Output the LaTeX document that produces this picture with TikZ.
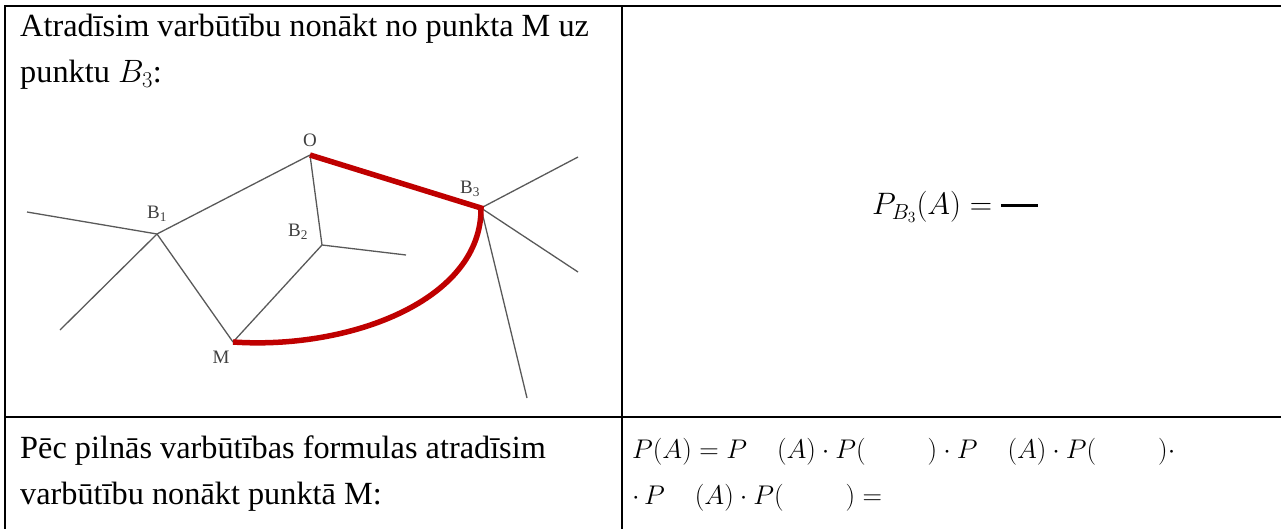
\RequirePackage{fix-cm}
\documentclass[tikz,border=0pt]{standalone}
\usepackage{fontspec}
\setmainfont{Liberation Serif}
\begin{document}
\begin{tikzpicture}[x=1pt,y=-1pt,
  cellline/.style={line width=2.2pt,black},
  edge/.style={line width=1.3pt,draw=black!65},
  path/.style={line width=5.5pt,draw=red!75!black,line cap=butt,line join=miter},
  txt/.style={anchor=base west,inner sep=0pt,font=\fontsize{32.3}{38}\selectfont},
  mtxt/.style={anchor=base west,inner sep=0pt,font=\fontsize{27}{32}\selectfont},
  lbl/.style={inner sep=0pt,font=\fontsize{19}{22}\selectfont,text=black!75}]
\useasboundingbox (0,0) rectangle (1281,529);
% table grid
\coordinate (tl) at (5,6);
\coordinate (tr) at (1285,6);
\coordinate (bl) at (5,535);
\coordinate (ml) at (5,417);
\coordinate (mr) at (1285,417);
\coordinate (ct) at (622,6);
\coordinate (cb) at (622,535);
\draw[cellline] (tr) -- (tl) -- (bl);
\draw[cellline] (ml) -- (mr);
\draw[cellline] (ct) -- (cb);
% texts
\node[txt] (t1) at (20,37) {Atradīsim varbūtību nonākt no punkta M uz};
\node[txt] (t2) at (20,83) {punktu $B_3$:};
\node[txt] (t3) at (20,458) {Pēc pilnās varbūtības formulas atradīsim};
\node[txt] (t4) at (20,504) {varbūtību nonākt punktā M:};
\node[mtxt,font=\fontsize{31}{36}\selectfont] (f1) at (872,215) {$P_{B_3}(A)=\rule[0.25em]{1.2em}{0.1em}$};
\node[mtxt] (f2) at (632,458) {$P(A)=P\hspace{30pt}(A)\cdot P(\hspace{62pt})\cdot P\hspace{30pt}(A)\cdot P(\hspace{62pt})\cdot$};
\node[mtxt] (f3) at (632,504) {$\cdot\, P\hspace{30pt}(A)\cdot P(\hspace{62pt})=$};
% diagram vertices
\coordinate (O) at (310,155);
\coordinate (B1) at (157,234);
\coordinate (B2) at (322,245);
\coordinate (B3) at (481,208);
\coordinate (M) at (233,342);
\coordinate (e1) at (27,212);
\coordinate (e2) at (60,330);
\coordinate (e3) at (406,255);
\coordinate (e4) at (578,157);
\coordinate (e5) at (578,272);
\coordinate (e6) at (527,398);
\draw[edge] (B1) -- (e1);
\draw[edge] (B1) -- (e2);
\draw[edge] (B1) -- (O);
\draw[edge] (B1) -- (M);
\draw[edge] (O) -- (B2);
\draw[edge] (B2) -- (e3);
\draw[edge] (B2) -- (M);
\draw[edge] (B3) -- (e4);
\draw[edge] (B3) -- (e5);
\draw[edge] (B3) -- (e6);
\draw[path] (O) -- (B3) .. controls (482,300) and (350,350) .. (M);
% labels
\node[lbl] (lO) at (310,140) {O};
\node[lbl] (lB1) at (157,214) {B\textsubscript{1}};
\node[lbl] (lB2) at (298,232) {B\textsubscript{2}};
\node[lbl] (lB3) at (470,189) {B\textsubscript{3}};
\node[lbl] (lM) at (221,357) {M};
\end{tikzpicture}
\end{document}
